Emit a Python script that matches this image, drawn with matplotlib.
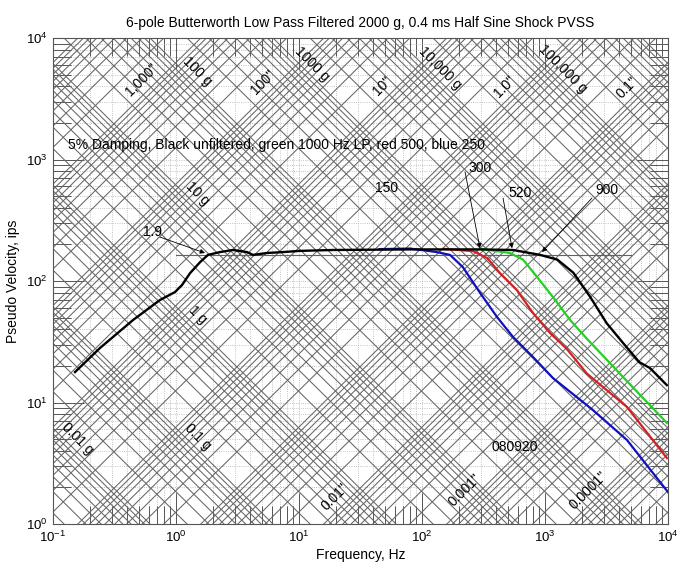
import matplotlib
matplotlib.use('Agg')
import matplotlib.pyplot as plt
import numpy as np

plt.rcParams['font.family'] = ['Liberation Sans', 'DejaVu Sans']

G_IN = 386.09  # in/s^2 per g

# --- PVSS curves (frequency Hz, pseudo velocity ips) ---
black_f = [0.151, 0.241, 0.447, 0.741, 0.98, 1.12, 1.30, 1.57, 1.82, 2.28, 2.9, 3.78,
           4.22, 5.5, 7.4, 10.2, 18.9, 40, 80, 140, 295, 550, 912, 1260, 1700,
           2330, 3170, 4300, 5840, 7140, 9780]
black_v = [17.8, 28.1, 47.7, 69.8, 81, 92.7, 116, 143, 164, 173, 180, 173,
           164, 170, 173, 177, 180, 181, 182, 182, 182, 180, 164, 150, 117,
           74, 45, 31, 21.5, 19.2, 13.9]

blue_f = [45, 80, 132, 169, 215, 297, 407, 550, 798, 1160, 2450, 4640, 10000]
blue_v = [183, 185, 173, 164, 130, 79.7, 50.6, 34.6, 23.7, 15.9, 8.67, 4.91, 1.83]

red_f = [150, 260, 340, 431, 590, 798, 1100, 1510, 2190, 4640, 9800]
red_v = [184, 176, 154, 116, 84.3, 54.6, 37.3, 27.5, 17.3, 9.18, 3.49]

green_f = [300, 519, 663, 861, 1160, 1600, 2190, 3190, 4310, 9800]
green_v = [184, 170, 150, 108, 73.8, 47.8, 33.5, 22.4, 16.2, 6.78]

ref_f = [1.0, 5000]
ref_v = [164, 164]

# --- tripartite labels ---
disp_labels = ['1,000"', '100"', '10"', '1.0"', '0.1"', '0.01"', '0.001"', '0.0001"']
disp_vals = [1000, 100, 10, 1.0, 0.1, 0.01, 0.001, 0.0001]
disp_lab_f = [0.53, 5.09, 47.3, 473, 4640, 19.6, 224, 2240]

acc_labels = ['100 g', '1000 g', '10,000 g', '100,000 g', '10 g', '1 g', '0.1 g', '0.01 g']
acc_vals = [100, 1000, 10000, 100000, 10, 1, 0.1, 0.01]
acc_lab_f = [1.48, 12.8, 140, 1400, 1.5, 1.5, 1.5, 0.157]

fig = plt.figure(figsize=(6.79, 5.71), dpi=100)
ax = fig.add_axes([53 / 679, 1 - 524 / 571, 615 / 679, 486 / 571])
ax.set_xscale('log')
ax.set_yscale('log')
ax.set_xlim(0.1, 1e4)
ax.set_ylim(1, 1e4)

# diagonal grid: constant displacement (up-right) and constant acceleration (down-right)
f_ends = np.array([0.1, 1e4])
grid_kw = dict(color='#666666', lw=0.75, zorder=1)
for k in range(-6, 5):
    for m in range(1, 10):
        d = m * 10.0 ** k
        ax.plot(f_ends, 2 * np.pi * f_ends * d, **grid_kw)
for k in range(-4, 7):
    for m in range(1, 10):
        a = m * 10.0 ** k
        ax.plot(f_ends, a * G_IN / (2 * np.pi * f_ends), **grid_kw)

ax.grid(which='both', linestyle=':', color='#b0b0b0', lw=0.6)
ax.set_axisbelow(True)

for txt, d, f in zip(disp_labels, disp_vals, disp_lab_f):
    ax.text(f, 1.35 * 2 * np.pi * f * d, txt, rotation=45, fontsize=10,
            ha='center', va='center', zorder=3)
for txt, a, f in zip(acc_labels, acc_vals, acc_lab_f):
    ax.text(f, 1.28 * a * G_IN / (2 * np.pi * f), txt, rotation=-45, fontsize=10,
            ha='center', va='center', zorder=3)

# curves
ax.plot(ref_f, ref_v, color='#5a5aa0', lw=0.8, zorder=4)
ax.plot(blue_f, blue_v, color='#1010c0', lw=1.6, zorder=5)
ax.plot(red_f, red_v, color='#d42020', lw=1.6, zorder=5)
ax.plot(green_f, green_v, color='#22d022', lw=1.6, zorder=5)
ax.plot(black_f, black_v, color='black', lw=1.7, zorder=6)

# annotations
ax.text(0.132, 1315, '5% Damping, Black unfiltered, green 1000 Hz LP, red 500, blue 250',
        fontsize=10, ha='left', va='center', zorder=7)
arrow_kw = dict(arrowstyle='-|>', color='black', lw=0.6, mutation_scale=7,
                shrinkA=0, shrinkB=0)
ax.text(0.64, 253, '1.9', fontsize=10, ha='center', va='center', zorder=7)
ax.annotate('', xy=(1.72, 170), xytext=(0.74, 230), arrowprops=arrow_kw, zorder=7)
ax.text(296, 851, '300', fontsize=10, ha='center', va='center', zorder=7)
ax.annotate('', xy=(296, 186), xytext=(224, 789), arrowprops=arrow_kw, zorder=7)
ax.text(627, 530, '520', fontsize=10, ha='center', va='center', zorder=7)
ax.annotate('', xy=(540, 186), xytext=(456, 482), arrowprops=arrow_kw, zorder=7)
ax.text(3190, 561, '900', fontsize=10, ha='center', va='center', zorder=7)
ax.annotate('', xy=(946, 173), xytext=(2410, 482), arrowprops=arrow_kw, zorder=7)
ax.text(51.9, 582, '150', fontsize=10, ha='center', va='center', zorder=7)
ax.text(570, 4.3, '080920', fontsize=10, ha='center', va='center', zorder=7)

# MATLAB-like long inward ticks on all sides
ax.tick_params(which='major', direction='in', length=22, width=0.7, color='#555555',
               top=True, right=True, labelsize=9.5, pad=4)
ax.tick_params(which='minor', direction='in', length=13, width=0.7, color='#555555',
               top=True, right=True)
for s in ax.spines.values():
    s.set_color('#555555')
    s.set_linewidth(0.8)

ax.set_xlabel('Frequency, Hz', fontsize=10, labelpad=2)
ax.set_ylabel('Pseudo Velocity, ips', fontsize=10, labelpad=4)
ax.set_title('6-pole Butterworth Low Pass Filtered 2000 g, 0.4 ms Half Sine Shock PVSS',
             fontsize=10, pad=8)

fig.savefig('out.png', dpi=100, facecolor='white')
